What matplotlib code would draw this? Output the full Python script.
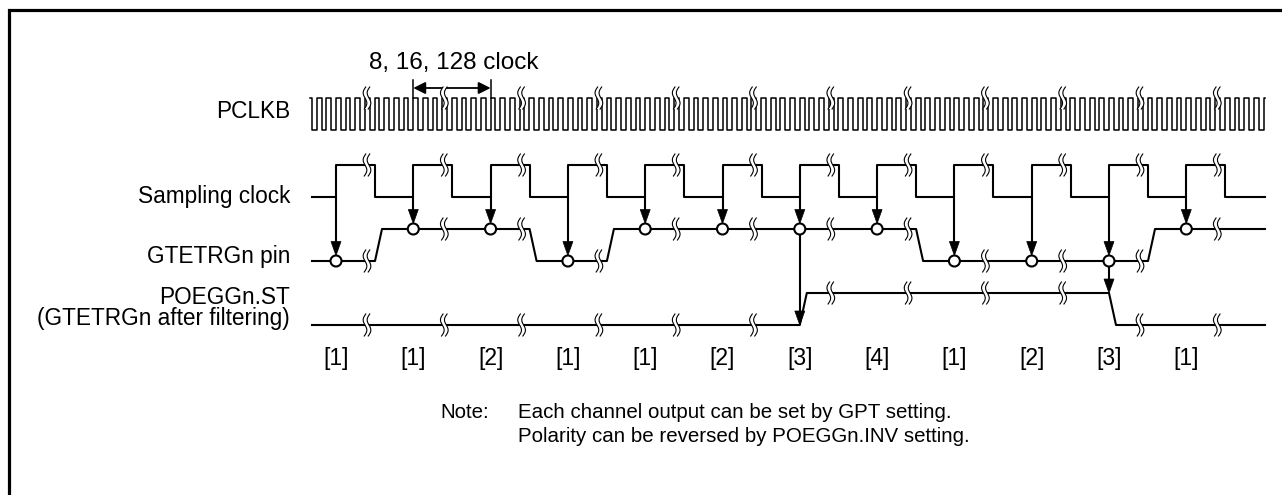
import numpy as np
import matplotlib
matplotlib.use("Agg")
import matplotlib.pyplot as plt
from matplotlib.patches import Circle, Polygon

plt.rcParams["font.family"] = ["Liberation Sans", "DejaVu Sans"]

# ---- data ----
sample_labels = ["[1]", "[1]", "[2]", "[1]", "[1]", "[2]", "[3]", "[4]", "[1]", "[2]", "[3]", "[1]"]
gtetrg_level = [0, 1, 1, 0, 1, 1, 1, 1, 0, 0, 0, 1]   # pin level at each sampling edge
poeg_level = [0, 0, 0, 0, 0, 0, 1, 1, 1, 1, 0, 0]     # filtered output after each edge
signal_names = ["PCLKB", "Sampling clock", "GTETRGn pin", "POEGGn.ST", "(GTETRGn after filtering)"]
span_text = "8, 16, 128 clock"
note_head = "Note:"
note_lines = ["Each channel output can be set by GPT setting.",
              "Polarity can be reversed by POEGGn.INV setting."]
clocks_per_sample = 8

# ---- layout (pixels) ----
X_START, X_END = 312, 1265
T0, TS = 336.0, 77.3          # first sampling edge, sampling period
SAMP_HIGH = 39                # sampling clock high width
SLOPE = 7                     # width of slanted edges
BREAK = 31                    # break mark offset after each edge
PCLK = (98, 130)              # (high y, low y)
SAMP = (165, 197)
GTE = (229, 261)
POE = (293, 325)
LW = 1.5
R = 5.5

edges = T0 + TS * np.arange(len(sample_labels))


def ylev(sig, lev):
    return sig[0] if lev else sig[1]


fig = plt.figure(figsize=(12.82, 4.95), dpi=100)
ax = fig.add_axes([0, 0, 1, 1])
ax.set_xlim(0, 1282)
ax.set_ylim(495, 0)
ax.axis("off")

# frame
ax.plot([9, 9, 1282], [495, 10, 10], color="black", lw=2.3, solid_joinstyle="miter")


def squiggle(xc, yc, h=22, w=2.2, gap=4.0):
    t = np.linspace(0, 1, 40)
    dx = -w * np.sin(2 * np.pi * t) + 1.5 * (0.5 - t)
    y = yc - h / 2 + h * t
    xl = xc - gap / 2 + dx
    xr = xc + gap / 2 + dx
    poly = np.column_stack([np.concatenate([xl, xr[::-1]]), np.concatenate([y, y[::-1]])])
    ax.add_patch(Polygon(poly, closed=True, fc="white", ec="none", zorder=4))
    ax.plot(xl, y, color="black", lw=0.8, zorder=4)
    ax.plot(xr, y, color="black", lw=0.8, zorder=4)


def arrow_down(x, y0, y1, head=14, half=5):
    ax.plot([x, x], [y0, y1 - head + 1], color="black", lw=LW, zorder=3)
    ax.add_patch(Polygon([[x - half, y1 - head], [x + half, y1 - head], [x, y1]],
                         closed=True, fc="black", ec="black", lw=0.5, zorder=6))


# PCLKB
p = TS / clocks_per_sample
rise0 = edges[1] - p * np.floor((edges[1] - X_START) / p)
px, py = [310, rise0 - p / 2, rise0 - p / 2], [PCLK[0], PCLK[0], PCLK[1]]
r = rise0
while r < X_END:
    f = r + p / 2
    px += [r, r]
    py += [PCLK[1], PCLK[0]]
    if f < X_END:
        px += [f, f]
        py += [PCLK[0], PCLK[1]]
        r += p
    else:
        break
px.append(X_END)
py.append(py[-1])
ax.plot(px, py, color="black", lw=1.1, zorder=2)

# sampling clock
sx, sy = [X_START], [SAMP[1]]
for e in edges:
    sx += [e, e, e + SAMP_HIGH, e + SAMP_HIGH]
    sy += [SAMP[1], SAMP[0], SAMP[0], SAMP[1]]
sx.append(X_END)
sy.append(SAMP[1])
ax.plot(sx, sy, color="black", lw=LW, zorder=2)

# GTETRGn pin
gx, gy = [X_START], [ylev(GTE, gtetrg_level[0])]
for k in range(1, len(edges)):
    if gtetrg_level[k] != gtetrg_level[k - 1]:
        t = edges[k - 1] + SAMP_HIGH
        gx += [t, t + SLOPE]
        gy += [ylev(GTE, gtetrg_level[k - 1]), ylev(GTE, gtetrg_level[k])]
gx.append(X_END)
gy.append(ylev(GTE, gtetrg_level[-1]))
ax.plot(gx, gy, color="black", lw=LW, zorder=2)

# POEGGn.ST
ox, oy = [X_START], [ylev(POE, poeg_level[0])]
for k in range(1, len(edges)):
    if poeg_level[k] != poeg_level[k - 1]:
        e = edges[k]
        ox += [e, e + SLOPE]
        oy += [ylev(POE, poeg_level[k - 1]), ylev(POE, poeg_level[k])]
ox.append(X_END)
oy.append(ylev(POE, poeg_level[-1]))
ax.plot(ox, oy, color="black", lw=LW, zorder=2)

# sampling arrows, circles, filter arrows
for k, e in enumerate(edges):
    yg = ylev(GTE, gtetrg_level[k])
    arrow_down(e, SAMP[1], yg - R)
    ax.add_patch(Circle((e, yg), R, fc="white", ec="black", lw=LW, zorder=7))
    if k > 0 and poeg_level[k] != poeg_level[k - 1]:
        arrow_down(e, yg + R, ylev(POE, poeg_level[k - 1]))

# break marks
for k, e in enumerate(edges):
    xb = e + BREAK
    squiggle(xb, PCLK[0])
    squiggle(xb, SAMP[0])
    squiggle(xb, ylev(GTE, gtetrg_level[k]))
    squiggle(xb, ylev(POE, poeg_level[k]))

# 8, 16, 128 clock span
for e in edges[1:3]:
    ax.plot([e, e], [80, PCLK[0]], color="black", lw=1.1, zorder=3)
ax.annotate("", xy=(edges[2], 88), xytext=(edges[1], 88),
            arrowprops=dict(arrowstyle="<|-|>", color="black", lw=1.3,
                            mutation_scale=18, shrinkA=0, shrinkB=0))
ax.text(454, 63, span_text, ha="center", va="center", fontsize=17.5)

# signal names
name_y = [112, 196, 256, 297, 319]
for name, y in zip(signal_names, name_y):
    ax.text(290, y, name, ha="right", va="center", fontsize=16.3)

# sample labels
for lab, e in zip(sample_labels, edges):
    ax.text(e, 359, lab, ha="center", va="center", fontsize=16.5)

# note
ax.text(440, 413, note_head, ha="left", va="center", fontsize=14.8)
for i, line in enumerate(note_lines):
    ax.text(518, 413 + 24 * i, line, ha="left", va="center", fontsize=14.8)

fig.savefig("out.png", dpi=100)
